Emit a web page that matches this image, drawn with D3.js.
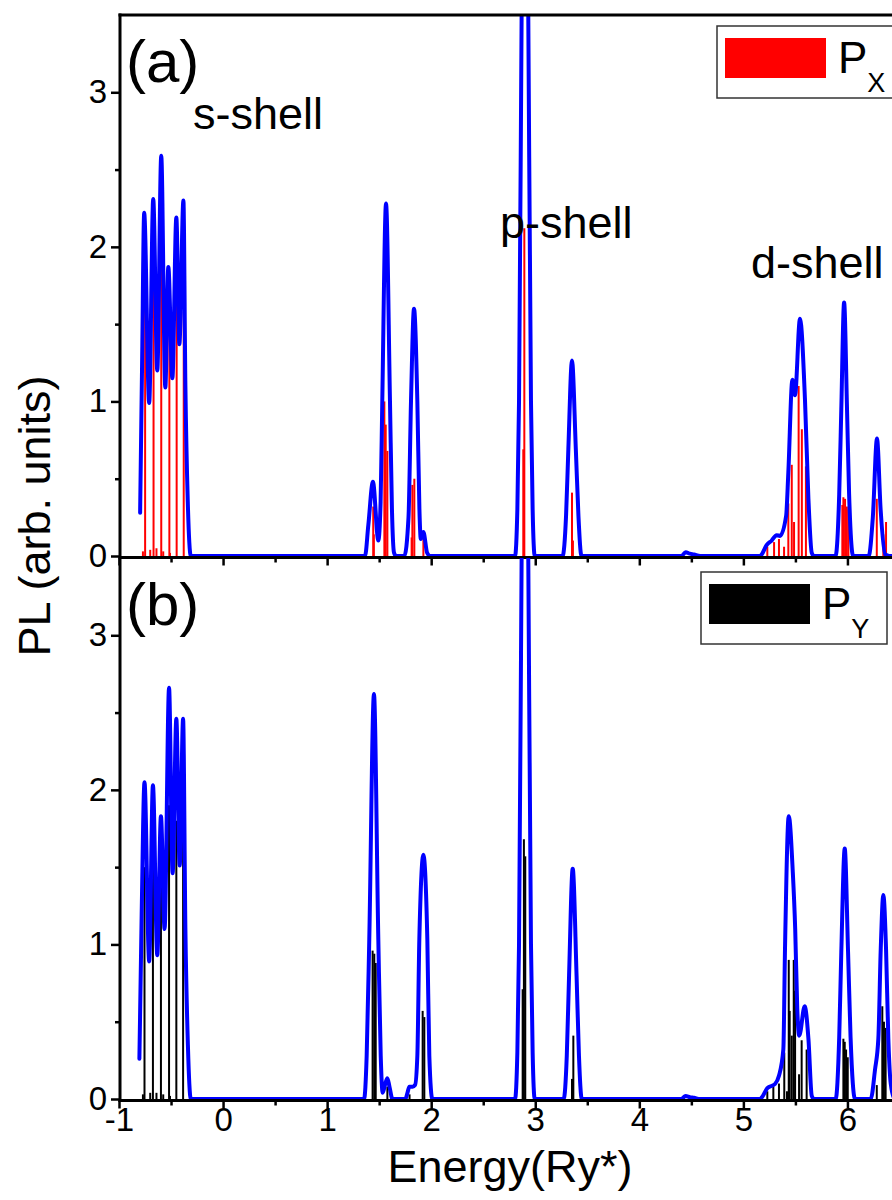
<!DOCTYPE html>
<html>
<head>
<meta charset="utf-8">
<script src="https://cdn.jsdelivr.net/npm/d3@7"></script>
<style>
body { margin: 0; background: #fff; }
svg { display: block; font-family: "Liberation Sans", Arial, sans-serif; }
</style>
</head>
<body>
<div id="graph"></div>
<script>
// tick values
const majorX = [-1, 0, 1, 2, 3, 4, 5, 6];
const minorX = [-0.5, 0.5, 1.5, 2.5, 3.5, 4.5, 5.5, 6.5];
const majorY = [0, 1, 2, 3];
const minorY = [0.5, 1.5, 2.5];

// broadened PL spectrum, panel (a)  [energy, PL]
const blueA = [
  [-0.797,0.28],[-0.778,1.25],[-0.758,2.22],[-0.71,0.99],[-0.671,2.31],[-0.632,1.20],[-0.594,2.59],
  [-0.555,1.09],[-0.526,1.87],[-0.487,1.15],[-0.449,2.19],[-0.42,1.37],[-0.381,2.30],[-0.362,1.1],
  [-0.339,0.35],[-0.31,0],
  [1.364,0],[1.396,0.2],[1.440,0.48],[1.492,0.10],[1.514,0.35],[1.530,1.0],[1.566,2.28],[1.604,1.0],
  [1.623,0.3],[1.643,0.02],[1.663,0],
  [1.742,0],[1.782,0.25],[1.806,1.0],[1.835,1.60],[1.867,1.0],[1.887,0.3],[1.900,0.11],[1.925,0.155],
  [1.961,0.02],[1.991,0],
  [2.806,0],[2.828,0.3],[2.844,1.0],[2.869,3.5],[2.901,6.5],[2.933,3.5],[2.959,1.0],[2.975,0.3],[2.995,0],
  [3.263,0],[3.296,0.26],[3.318,0.69],[3.353,1.265],[3.390,0.69],[3.415,0.26],[3.444,0],
  [4.405,0],[4.445,0.025],[4.485,0.015],[4.525,0.01],[4.585,0],
  [5.161,0],[5.176,0.01],[5.223,0.07],[5.272,0.10],[5.319,0.135],[5.352,0.13],[5.411,0.26],[5.432,0.54],
  [5.471,1.14],[5.496,1.04],[5.544,1.535],[5.592,1.01],[5.625,0.37],[5.657,0.02],[5.678,0],
  [5.886,0],[5.921,0.4],[5.941,0.95],[5.968,1.64],[5.996,0.95],[6.016,0.4],[6.055,0],
  [6.204,0],[6.244,0.25],[6.284,0.76],[6.319,0.3],[6.363,0.01],[6.403,0],[6.7,0]
];

// P_X transition strengths, panel (a)
const sticksA = [
  [-0.749,1.65],[-0.668,1.80],[-0.594,2.0],[-0.516,1.62],[-0.446,1.75],[-0.378,1.58],
  [-0.77,0.03],[-0.70,0.04],[-0.64,0.05],[-0.575,0.03],[-0.51,0.02],
  [1.443,0.32],[1.449,0.14],[1.550,1.0],[1.563,0.85],[1.579,0.68],[1.812,0.12],[1.819,0.46],[1.838,0.50],
  [1.925,0.11],[2.885,0.69],[2.895,2.12],[3.353,0.41],[3.362,0.1],
  [5.230,0.06],[5.295,0.09],[5.342,0.11],[5.391,0.06],[5.432,0.34],[5.465,0.59],[5.487,0.22],[5.531,1.10],
  [5.562,0.82],[5.601,0.58],[5.951,0.33],[5.961,0.38],[5.977,0.37],[5.994,0.32],[6.009,0.30],
  [6.282,0.37],[6.345,0.14],[6.371,0.22]
];

// broadened PL spectrum, panel (b)
const blueB = [
  [-0.804,0.26],[-0.782,1.2],[-0.755,2.05],[-0.71,0.89],[-0.674,2.03],[-0.632,0.93],[-0.597,1.83],
  [-0.562,1.10],[-0.519,2.66],[-0.485,1.46],[-0.449,2.46],[-0.417,1.51],[-0.384,2.46],[-0.362,1.1],
  [-0.338,0.35],[-0.31,0],
  [1.355,0],[1.380,0.28],[1.405,1.03],[1.450,2.62],[1.492,1.03],[1.515,0.28],[1.534,0.04],[1.559,0.1],
  [1.579,0.135],[1.599,0.08],[1.628,0],
  [1.752,0],[1.772,0.04],[1.790,0.08],[1.822,0.08],[1.845,0.09],[1.867,0.28],[1.886,1.03],[1.925,1.58],
  [1.963,1.03],[1.982,0.28],[2.011,0],
  [2.806,0],[2.828,0.3],[2.844,1.0],[2.869,3.5],[2.901,6.5],[2.933,3.5],[2.959,1.0],[2.975,0.3],[2.995,0],
  [3.273,0],[3.303,0.28],[3.325,0.8],[3.360,1.49],[3.397,0.8],[3.420,0.28],[3.447,0],
  [4.405,0],[4.445,0.02],[4.485,0.012],[4.525,0.008],[4.585,0],
  [5.161,0],[5.177,0.01],[5.230,0.07],[5.304,0.097],[5.342,0.15],[5.384,0.32],[5.400,0.97],[5.436,1.83],
  [5.474,1.48],[5.498,1.10],[5.518,0.58],[5.537,0.41],[5.589,0.60],[5.625,0.39],[5.657,0.02],[5.678,0],
  [5.887,0],[5.921,0.4],[5.941,0.95],[5.974,1.62],[6.006,0.95],[6.030,0.4],[6.073,0],
  [6.224,0],[6.265,0.19],[6.297,0.39],[6.320,0.97],[6.345,1.32],[6.371,0.97],[6.393,0.39],[6.416,0.1],
  [6.453,0],[6.7,0]
];

// P_Y transition strengths, panel (b)
const sticksB = [
  [-0.755,1.5],[-0.674,1.5],[-0.597,1.4],[-0.519,1.9],[-0.449,1.8],[-0.384,1.8],
  [-0.77,0.03],[-0.70,0.04],[-0.64,0.04],[-0.575,0.03],[-0.51,0.02],
  [1.437,0.96],[1.453,0.94],[1.467,0.88],[1.579,0.08],[1.792,0.03],[1.918,0.57],[1.934,0.53],
  [2.879,0.71],[2.891,1.68],[2.904,1.57],[3.353,0.13],[3.366,0.41],
  [5.230,0.05],[5.288,0.08],[5.342,0.10],[5.393,0.30],[5.419,0.05],[5.436,0.90],[5.445,0.57],[5.465,0.41],
  [5.484,0.90],[5.497,0.70],[5.535,0.16],[5.560,0.38],[5.608,0.32],
  [5.961,0.39],[5.974,0.37],[5.987,0.32],[6.003,0.27],
  [6.282,0.09],[6.335,0.60],[6.351,0.50],[6.367,0.46]
];

// shell annotations [text, energy, PL]
const shellLabels = [["s-shell", -0.289, 2.76], ["p-shell", 2.661, 2.06], ["d-shell", 5.073, 1.80]];

const width = 892, height = 1200;

let graph;
let xScale;
let yScaleA;
let yScaleB;

function setUp() {
	graph = d3.select("div#graph")
		.append("svg")
		.attr("width", width)
		.attr("height", height);

	xScale = d3.scaleLinear()
		.domain([-1, 7])
		.range([119, 951.5]);

	yScaleA = d3.scaleLinear()
		.domain([0, 3.5])
		.range([556, 15]);

	yScaleB = d3.scaleLinear()
		.domain([0, 3.5])
		.range([1099, 558]);
}

function drawPanel(name, yScale, blue, sticks, stickColor, showLabels) {
	const clip = graph.append("clipPath").attr("id", "clip" + name);
	clip.append("rect")
		.attr("x", xScale(-1))
		.attr("y", yScale(3.5))
		.attr("width", xScale(7) - xScale(-1))
		.attr("height", yScale(0) - yScale(3.5) + 3);

	const plot = graph.append("g").attr("clip-path", `url(#clip${name})`);

	plot.selectAll("line.stick")
		.data(sticks)
		.enter()
		.append("line")
		.attr("class", "stick")
		.attr("x1", d => xScale(d[0]))
		.attr("x2", d => xScale(d[0]))
		.attr("y1", yScale(0))
		.attr("y2", d => yScale(d[1]))
		.attr("stroke", stickColor)
		.attr("stroke-width", 2);

	const line = d3.line()
		.curve(d3.curveMonotoneX)
		.x(d => xScale(d[0]))
		.y(d => yScale(d[1]));

	plot.append("path").datum(blue)
		.attr("fill", "none")
		.attr("stroke", "#0000ff")
		.attr("stroke-width", 4)
		.attr("stroke-linejoin", "round")
		.attr("stroke-linecap", "round")
		.attr("d", line);

	const y0 = yScale(0) + 1.5;

	// x axis: major + minor ticks
	graph.append("g")
		.attr("class", "x axis")
		.attr("transform", `translate(0, ${y0})`)
		.call(d3.axisBottom(xScale).tickValues(majorX).tickSize(8).tickPadding(-1)
			.tickFormat(showLabels ? d => String(d) : ""));
	graph.append("g")
		.attr("class", "x axis minor")
		.attr("transform", `translate(0, ${y0})`)
		.call(d3.axisBottom(xScale).tickValues(minorX).tickSize(5).tickFormat(""));

	// y axis
	graph.append("g")
		.attr("class", "y axis")
		.attr("transform", `translate(120, 0)`)
		.call(d3.axisLeft(yScale).tickValues(majorY).tickSize(9).tickPadding(4).tickFormat(d => String(d)));
	graph.append("g")
		.attr("class", "y axis minor")
		.attr("transform", `translate(120, 0)`)
		.call(d3.axisLeft(yScale).tickValues(minorY).tickSize(5).tickFormat(""));

	// bottom frame line of the panel
	graph.append("line")
		.attr("x1", 118.5).attr("x2", width + 10)
		.attr("y1", y0).attr("y2", y0)
		.attr("stroke", "#000").attr("stroke-width", 3);
}

function drawDecor() {
	graph.selectAll(".axis path.domain").remove();
	graph.selectAll(".axis line").attr("stroke", "#000").attr("stroke-width", 2.5);
	graph.selectAll(".axis text")
		.attr("fill", "#000")
		.style("font-size", "33px")
		.style("font-family", "'Liberation Sans', Arial, sans-serif");

	// top frame and left axis line
	graph.append("line")
		.attr("x1", 118.5).attr("x2", width + 10)
		.attr("y1", yScaleA(3.5)).attr("y2", yScaleA(3.5))
		.attr("stroke", "#000").attr("stroke-width", 3);
	graph.append("line")
		.attr("x1", 120).attr("x2", 120)
		.attr("y1", yScaleA(3.5) - 1.5).attr("y2", yScaleB(0) + 3)
		.attr("stroke", "#000").attr("stroke-width", 3);

	// panel tags
	graph.append("text").attr("x", 126).attr("y", 82)
		.style("font-size", "60px").text("(a)");
	graph.append("text").attr("x", 126).attr("y", 625)
		.style("font-size", "60px").text("(b)");

	graph.selectAll("text.shell")
		.data(shellLabels)
		.enter()
		.append("text")
		.attr("class", "shell")
		.attr("x", d => xScale(d[1]))
		.attr("y", d => yScaleA(d[2]))
		.style("font-size", "45px")
		.text(d => d[0]);

	// axis titles
	graph.append("text")
		.attr("x", 510).attr("y", 1182)
		.attr("text-anchor", "middle")
		.style("font-size", "45px")
		.text("Energy(Ry*)");
	graph.append("text")
		.attr("transform", "translate(50, 516) rotate(-90)")
		.attr("text-anchor", "middle")
		.style("font-size", "45px")
		.text("PL (arb. units)");

	// legends
	legend(717, 26, "#ff0000", "X");
	legend(701, 572, "#000000", "Y");
}

function legend(x, y, color, sub) {
	const g = graph.append("g").attr("class", "legend")
		.attr("transform", `translate(${x}, ${y})`);
	g.append("rect")
		.attr("x", 0).attr("y", 0)
		.attr("width", 186).attr("height", 72)
		.attr("fill", "#fff")
		.attr("stroke", "#333").attr("stroke-width", 1.5);
	g.append("rect")
		.attr("x", 8).attr("y", 12)
		.attr("width", 101).attr("height", 40)
		.attr("fill", color);
	const t = g.append("text")
		.attr("x", 121).attr("y", 47)
		.style("font-size", "44px");
	t.append("tspan").text("P");
	t.append("tspan")
		.attr("dy", 19)
		.style("font-size", "27px")
		.text(sub);
}

setUp();
drawPanel("A", yScaleA, blueA, sticksA, "#ff0000", false);
drawPanel("B", yScaleB, blueB, sticksB, "#000000", true);
drawDecor();
</script>
</body>
</html>
